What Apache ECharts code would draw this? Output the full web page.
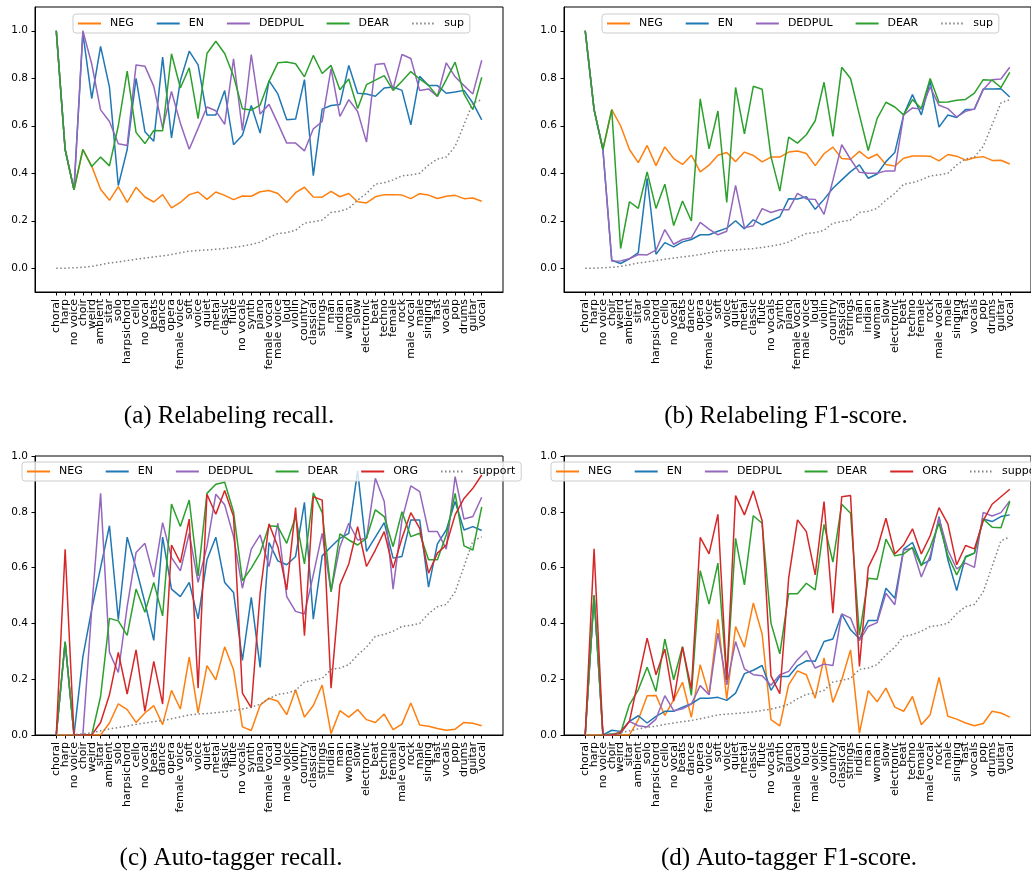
<!DOCTYPE html>
<html>
<head>
<meta charset="utf-8">
<script src="https://cdn.jsdelivr.net/npm/echarts@6/dist/echarts.min.js"></script>
<style>html,body{margin:0;padding:0;background:#fff}#c{width:1031px;height:877px}</style>
</head>
<body>
<div id="c"></div>
<script>
// ---- categories ----
const catsAB = ["choral","harp","no voice","choir","weird","ambient","sitar","solo","harpsichord","cello","no vocal","beats","dance","opera","female voice","soft","voice","quiet","metal","classic","flute","no vocals","synth","piano","female vocal","male voice","loud","violin","country","classical","strings","man","indian","woman","slow","electronic","beat","techno","female","rock","male vocal","male","singing","fast","vocals","pop","drums","guitar","vocal"];
const catsCD = ["choral","harp","no voice","choir","weird","sitar","ambient","solo","harpsichord","cello","no vocal","beats","dance","opera","female voice","soft","voice","quiet","metal","classic","flute","no vocals","synth","piano","female vocal","loud","male voice","violin","country","classical","strings","indian","man","woman","slow","electronic","beat","techno","female","male vocal","rock","male","singing","fast","vocals","pop","drums","guitar","vocal"];
const yTicks = [0, 0.2, 0.4, 0.6, 0.8, 1.0];

// ---- support (fraction) ----
const support = [0,0,0.002,0.004,0.008,0.015,0.022,0.027,0.032,0.038,0.043,0.048,0.052,0.058,0.065,0.072,0.075,0.077,0.08,0.083,0.088,0.093,0.1,0.11,0.13,0.146,0.15,0.16,0.19,0.196,0.203,0.235,0.24,0.252,0.287,0.315,0.354,0.36,0.372,0.389,0.393,0.4,0.435,0.46,0.468,0.513,0.604,0.696,0.71];

// ---- (a) Relabeling recall ----
const aNEG = [1.0,0.5,0.33,0.5,0.43,0.333,0.286,0.344,0.277,0.341,0.30,0.279,0.31,0.254,0.277,0.31,0.321,0.29,0.321,0.307,0.289,0.304,0.303,0.322,0.327,0.315,0.277,0.318,0.341,0.30,0.299,0.324,0.301,0.315,0.28,0.275,0.301,0.31,0.31,0.308,0.293,0.314,0.308,0.294,0.303,0.307,0.293,0.296,0.282];
const aEN = [1.0,0.5,0.33,0.99,0.714,0.934,0.763,0.348,0.5,0.80,0.575,0.535,0.889,0.549,0.79,0.914,0.856,0.645,0.645,0.748,0.52,0.56,0.685,0.569,0.79,0.734,0.625,0.628,0.794,0.39,0.67,0.685,0.689,0.854,0.737,0.734,0.724,0.759,0.763,0.749,0.604,0.808,0.769,0.769,0.737,0.742,0.749,0.696,0.625];
const aDEDPUL = [1.0,0.5,0.33,1.0,0.86,0.667,0.618,0.524,0.517,0.856,0.851,0.766,0.59,0.744,0.611,0.501,0.589,0.679,0.663,0.606,0.882,0.58,0.9,0.649,0.69,0.61,0.527,0.527,0.494,0.587,0.618,0.841,0.639,0.71,0.66,0.531,0.858,0.862,0.755,0.9,0.883,0.748,0.755,0.724,0.865,0.806,0.769,0.734,0.876];
const aDEAR = [1.0,0.5,0.33,0.5,0.428,0.468,0.431,0.6,0.83,0.572,0.525,0.58,0.579,0.903,0.759,0.844,0.63,0.904,0.956,0.904,0.808,0.672,0.666,0.687,0.787,0.865,0.868,0.861,0.806,0.896,0.82,0.854,0.752,0.797,0.673,0.773,0.792,0.811,0.749,0.787,0.828,0.797,0.77,0.724,0.794,0.868,0.734,0.668,0.804];

// ---- (b) Relabeling F1-score ----
const bNEG = [1.0,0.668,0.5,0.668,0.6,0.5,0.445,0.517,0.432,0.511,0.462,0.437,0.476,0.406,0.434,0.476,0.487,0.449,0.489,0.475,0.448,0.468,0.468,0.489,0.494,0.483,0.432,0.482,0.51,0.462,0.459,0.492,0.462,0.48,0.437,0.43,0.463,0.473,0.473,0.472,0.452,0.479,0.472,0.455,0.465,0.47,0.454,0.455,0.439];
const bEN = [1.0,0.668,0.5,0.034,0.02,0.04,0.066,0.379,0.059,0.108,0.09,0.111,0.121,0.141,0.141,0.156,0.169,0.2,0.166,0.204,0.183,0.2,0.217,0.293,0.292,0.301,0.248,0.29,0.337,0.372,0.407,0.435,0.379,0.397,0.449,0.487,0.646,0.731,0.646,0.787,0.594,0.645,0.635,0.668,0.67,0.755,0.755,0.756,0.721];
const bDEDPUL = [1.0,0.668,0.5,0.03,0.031,0.04,0.058,0.056,0.076,0.163,0.101,0.121,0.128,0.193,0.165,0.141,0.156,0.349,0.17,0.179,0.251,0.235,0.246,0.246,0.315,0.292,0.29,0.227,0.37,0.52,0.459,0.404,0.4,0.4,0.41,0.41,0.646,0.675,0.67,0.763,0.686,0.672,0.637,0.661,0.67,0.752,0.794,0.797,0.846];
const bDEAR = [1.0,0.668,0.5,0.668,0.083,0.28,0.252,0.406,0.252,0.354,0.18,0.283,0.199,0.713,0.503,0.662,0.277,0.761,0.566,0.766,0.754,0.47,0.325,0.552,0.527,0.562,0.621,0.783,0.555,0.846,0.799,0.646,0.496,0.63,0.699,0.679,0.646,0.71,0.673,0.799,0.699,0.7,0.707,0.711,0.737,0.794,0.792,0.761,0.825];

// ---- (c) Auto-tagger recall ----
const cNEG = [0,0,0,0,0,0,0.043,0.112,0.091,0.045,0.079,0.105,0.037,0.16,0.093,0.279,0.079,0.249,0.198,0.316,0.234,0.029,0.016,0.107,0.132,0.121,0.073,0.162,0.064,0.106,0.179,0.005,0.087,0.064,0.091,0.055,0.045,0.075,0.019,0.039,0.115,0.036,0.031,0.023,0.017,0.021,0.045,0.042,0.033];
const cEN = [0,0.333,0,0.28,0.45,0.6,0.75,0.413,0.709,0.598,0.475,0.339,0.709,0.523,0.496,0.547,0.416,0.628,0.709,0.547,0.511,0.267,0.493,0.242,0.69,0.624,0.61,0.64,0.834,0.415,0.642,0.675,0.705,0.723,0.947,0.658,0.709,0.761,0.634,0.64,0.771,0.771,0.53,0.685,0.735,0.837,0.735,0.747,0.733];
const cDEDPUL = [0,0.333,0,0,0.45,0.866,0.296,0.224,0.46,0.654,0.687,0.566,0.761,0.636,0.588,0.723,0.547,0.675,0.863,0.825,0.711,0.526,0.666,0.717,0.604,0.759,0.496,0.443,0.434,0.574,0.723,0.514,0.675,0.759,0.699,0.705,0.92,0.837,0.523,0.771,0.893,0.872,0.729,0.729,0.666,0.926,0.774,0.783,0.852];
const cDEAR = [0,0.335,0,0,0,0.138,0.418,0.409,0.357,0.523,0.44,0.547,0.427,0.828,0.747,0.842,0.57,0.866,0.899,0.906,0.8,0.553,0.598,0.652,0.75,0.747,0.687,0.783,0.613,0.868,0.797,0.514,0.721,0.699,0.681,0.705,0.807,0.783,0.675,0.8,0.711,0.723,0.628,0.628,0.717,0.866,0.678,0.663,0.818];
const cORG = [0,0.666,0,0,0,0.045,0.144,0.296,0.147,0.305,0.085,0.264,0.111,0.681,0.618,0.774,0.168,0.863,0.791,0.876,0.783,0.15,0.097,0.508,0.757,0.675,0.52,0.815,0.356,0.854,0.842,0.168,0.538,0.613,0.747,0.604,0.663,0.729,0.598,0.705,0.797,0.741,0.58,0.652,0.681,0.789,0.848,0.884,0.932];

// ---- (d) Auto-tagger F1-score ----
const dNEG = [0,0,0,0,0,0,0.055,0.141,0.142,0.07,0.126,0.189,0.063,0.252,0.144,0.415,0.129,0.389,0.315,0.473,0.362,0.055,0.033,0.18,0.23,0.216,0.132,0.276,0.117,0.198,0.305,0.007,0.159,0.119,0.168,0.1,0.085,0.138,0.037,0.073,0.206,0.067,0.057,0.043,0.033,0.041,0.085,0.079,0.064];
const dEN = [0,0.5,0,0.017,0.013,0.049,0.069,0.043,0.067,0.085,0.085,0.1,0.112,0.132,0.132,0.135,0.124,0.15,0.22,0.232,0.249,0.16,0.21,0.21,0.248,0.266,0.264,0.335,0.344,0.433,0.377,0.345,0.41,0.41,0.526,0.49,0.666,0.69,0.61,0.628,0.783,0.628,0.518,0.64,0.652,0.774,0.765,0.783,0.789];
const dDEDPUL = [0,0.5,0,0,0.005,0.049,0.033,0.029,0.057,0.141,0.087,0.094,0.111,0.177,0.144,0.365,0.18,0.335,0.237,0.216,0.212,0.178,0.216,0.228,0.27,0.302,0.24,0.254,0.249,0.434,0.419,0.338,0.389,0.403,0.508,0.467,0.663,0.669,0.566,0.642,0.777,0.663,0.595,0.616,0.601,0.798,0.785,0.797,0.839];
const dDEAR = [0,0.501,0,0.004,0.007,0.109,0.162,0.243,0.156,0.344,0.198,0.317,0.142,0.589,0.469,0.616,0.198,0.705,0.538,0.786,0.759,0.401,0.291,0.506,0.506,0.544,0.52,0.755,0.62,0.827,0.795,0.359,0.562,0.558,0.702,0.642,0.649,0.673,0.606,0.673,0.759,0.642,0.574,0.637,0.652,0.774,0.745,0.743,0.837];
const dORG = [0,0.667,0,0,0.01,0.049,0.198,0.347,0.216,0.308,0.121,0.315,0.165,0.708,0.649,0.791,0.198,0.858,0.789,0.875,0.768,0.212,0.148,0.562,0.771,0.729,0.574,0.837,0.437,0.854,0.858,0.246,0.601,0.666,0.777,0.649,0.681,0.739,0.649,0.714,0.815,0.757,0.61,0.679,0.667,0.768,0.827,0.854,0.881];

const captions = ["(a) Relabeling recall.", "(b) Relabeling F1-score.", "(c) Auto-tagger recall.", "(d) Auto-tagger F1-score."];

// ---- styling ----
const COLORS = {NEG:'#ff7f0e', EN:'#1f77b4', DEDPUL:'#9467bd', DEAR:'#2ca02c', ORG:'#d62728', sup:'#808080', support:'#808080'};
const FONT = 'DejaVu Sans';

const panels = [
  {grid:{left:35, top:7, width:468, height:285}, ymin:-0.1, ymax:1.1, cats:catsAB,
   series:[['NEG',aNEG],['EN',aEN],['DEDPUL',aDEDPUL],['DEAR',aDEAR],['sup',support]], legendLeft:73, legendTop:14},
  {grid:{left:564, top:7, width:469, height:285}, ymin:-0.1, ymax:1.1, cats:catsAB,
   series:[['NEG',bNEG],['EN',bEN],['DEDPUL',bDEDPUL],['DEAR',bDEAR],['sup',support]], legendLeft:602, legendTop:14},
  {grid:{left:35, top:456, width:468, height:279}, ymin:0, ymax:1.0, cats:catsCD,
   series:[['NEG',cNEG],['EN',cEN],['DEDPUL',cDEDPUL],['DEAR',cDEAR],['ORG',cORG],['support',support]], legendLeft:22, legendTop:462},
  {grid:{left:564, top:456, width:469, height:279}, ymin:0, ymax:1.0, cats:catsCD,
   series:[['NEG',dNEG],['EN',dEN],['DEDPUL',dDEDPUL],['DEAR',dDEAR],['ORG',dORG],['support',support]], legendLeft:551, legendTop:462}
];
const capPos = [[229,416],[786,416],[231,858],[789,858]];

const option = {animation:false, grid:[], xAxis:[], yAxis:[], legend:[], series:[], graphic:[]};
panels.forEach((p, gi) => {
  option.grid.push(Object.assign({show:true, borderColor:'#000', borderWidth:1, backgroundColor:'transparent', containLabel:false}, p.grid));
  const idx = p.cats.map((c, i) => i);
  const even = idx.filter(i => i % 2 === 0);
  const odd = idx.filter(i => i % 2 === 1);
  const labelStyle = {rotate:90, fontSize:11, fontFamily:FONT, color:'#000', margin:7,
    showMinLabel:true, showMaxLabel:true, hideOverlap:false, formatter:v => p.cats[Math.round(v)]};
  // main x axis: line, all ticks, labels of even categories
  option.xAxis.push({type:'value', gridIndex:gi, position:'bottom', min:-2.4, max:50.4,
    axisLine:{show:true, onZero:false, lineStyle:{color:'#000', width:1}},
    axisTick:{show:true, customValues:idx, length:3.5, lineStyle:{color:'#000', width:1}},
    axisLabel:Object.assign({show:true, customValues:even}, labelStyle),
    splitLine:{show:false}});
  // companion x axis: labels of odd categories (same scale)
  option.xAxis.push({type:'value', gridIndex:gi, position:'bottom', offset:0, min:-2.4, max:50.4,
    axisLine:{show:false, onZero:false},
    axisTick:{show:false},
    axisLabel:Object.assign({show:true, customValues:odd}, labelStyle),
    splitLine:{show:false}});
  option.yAxis.push({type:'value', gridIndex:gi, min:p.ymin, max:p.ymax,
    axisLine:{show:true, onZero:false, lineStyle:{color:'#000', width:1}},
    axisTick:{show:true, customValues:yTicks, length:3.5, lineStyle:{color:'#000', width:1}},
    axisLabel:{show:true, customValues:yTicks, formatter:v => v.toFixed(1), fontSize:10.5, fontFamily:FONT, color:'#000', margin:7,
      showMinLabel:true, showMaxLabel:true},
    splitLine:{show:false}});
  option.legend.push({left:p.legendLeft, top:p.legendTop, width:700, orient:'horizontal', data:p.series.map(s => s[0]),
    itemWidth:23, itemHeight:10, itemGap:22,
    itemStyle:{opacity:0, borderWidth:0},
    textStyle:{fontSize:11, fontFamily:FONT, color:'#000', padding:[0,0,0,4]},
    backgroundColor:'rgba(255,255,255,0.8)', borderColor:'#cccccc', borderWidth:1, borderRadius:3, padding:[4,6,4,4],
    selectedMode:false});
  p.series.forEach(([name, vals], k) => {
    const dotted = (name === 'sup' || name === 'support');
    option.series.push({type:'line', name:name, xAxisIndex:2 * gi, yAxisIndex:gi,
      data: vals.map((v, i) => [i, v]), symbol:'none', z:2+k,
      lineStyle:{color:COLORS[name], width:1.5, type: dotted ? [1.5, 2.5] : 'solid'},
      itemStyle:{color:COLORS[name]}});
  });
  option.graphic.push({type:'text', x:capPos[gi][0], y:capPos[gi][1],
    style:{text:captions[gi], font:'25px "Liberation Serif"', fill:'#000', textAlign:'center', textVerticalAlign:'middle'}});
});

const chart = echarts.init(document.getElementById('c'), null, {renderer:'canvas'});
chart.setOption(option);
</script>
</body>
</html>
